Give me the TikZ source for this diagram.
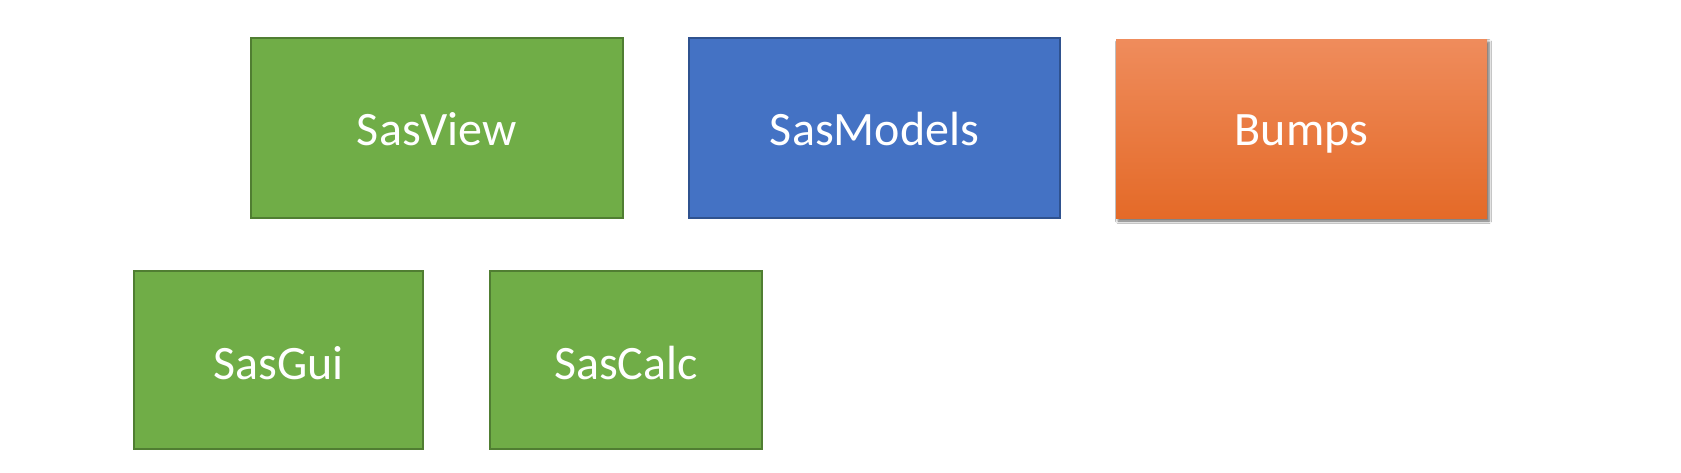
\documentclass[tikz,border=0pt]{standalone}
\usepackage{fontspec}
\setmainfont{Carlito}
\usetikzlibrary{shadows.blur}
\definecolor{gfill}{HTML}{70AD47}
\definecolor{gdraw}{HTML}{507E32}
\definecolor{bfill}{HTML}{4472C4}
\definecolor{bdraw}{HTML}{2F528F}
\definecolor{otop}{HTML}{EF8C5C}
\definecolor{omid}{HTML}{F47C34}
\definecolor{obot}{HTML}{E46A28}
\tikzset{
  lbl/.style={text=white, anchor=base, inner sep=0pt, font=\fontsize{48}{58}\selectfont},
  gbox/.style={fill=gfill, draw=gdraw, line width=1.6pt},
  bbox/.style={fill=bfill, draw=bdraw, line width=1.6pt},
  obox/.style={top color=otop, middle color=omid, bottom color=obot, draw=none,
    blur shadow={shadow xshift=2pt, shadow yshift=-3pt, shadow blur steps=6, shadow blur radius=2.5pt, shadow opacity=60}},
}
\begin{document}
\begin{tikzpicture}[x=1pt,y=-1pt]
\useasboundingbox[fill=white] (0,0) rectangle (1681,472);
\path[gbox] (251,38) rectangle (623,218);
\node[lbl] (sasview) at (437,145) {SasView};
\path[bbox] (689,38) rectangle (1060,218);
\node[lbl] (sasmodels) at (874.5,145) {SasModels};
\path[obox] (1116,39) rectangle (1487,218);
\node[lbl] (bumps) at (1301.5,145) {Bumps};
\path[gbox] (134,271) rectangle (423,449);
\node[lbl] (sasgui) at (278.5,379) {SasGui};
\path[gbox] (490,271) rectangle (762,449);
\node[lbl] (sascalc) at (626,379) {SasCalc};
\end{tikzpicture}
\end{document}
